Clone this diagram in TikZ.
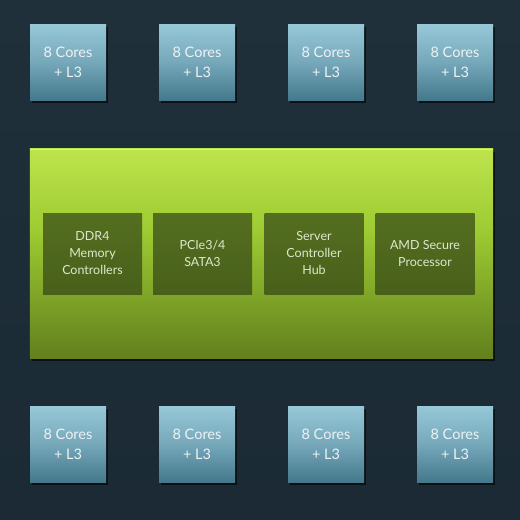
\documentclass[tikz,border=0pt]{standalone}
\usepackage{fontspec}
\setmainfont{Lato}
\usetikzlibrary{shadows}
\definecolor{bg}{RGB}{31,48,59}
\definecolor{bgdark}{RGB}{27,42,52}
\definecolor{coretop}{RGB}{150,200,216}
\definecolor{corebot}{RGB}{68,120,140}
\definecolor{greentop}{RGB}{190,228,76}
\definecolor{greenmid}{RGB}{158,204,50}
\definecolor{greenbot}{RGB}{98,128,30}
\definecolor{unittop}{RGB}{84,110,32}
\definecolor{unitbot}{RGB}{72,96,26}
\definecolor{coretext}{RGB}{238,242,244}
\definecolor{unittext}{RGB}{222,232,205}
\tikzset{
  corebox/.style={minimum width=76pt, minimum height=76pt, inner sep=0pt,
    top color=coretop, bottom color=corebot, middle color=coretop!60!corebot,
    drop shadow={shadow xshift=1.5pt, shadow yshift=-2.5pt, fill=black, opacity=0.6},
    text=coretext, font=\fontsize{14.5}{20}\selectfont, align=center},
  unitbox/.style={minimum width=99pt, minimum height=81pt, inner sep=0pt,
    top color=unittop, bottom color=unitbot,
    text=unittext, font=\fontsize{12.5}{17}\selectfont, align=center},
  iobox/.style={minimum width=463pt, minimum height=209pt, inner sep=0pt,
    drop shadow={shadow xshift=2pt, shadow yshift=-3pt, fill=black, opacity=0.6}}
}
\begin{document}
\begin{tikzpicture}[x=1pt,y=-1pt]
\useasboundingbox (0,0) rectangle (520,520);
\shade[top color=bg, bottom color=bgdark] (0,0) rectangle (520,520);
% I/O die
\node[iobox] (io) at (261.5,253.5) {};
\shade[top color=greentop, bottom color=greenmid] (io.north west) rectangle ([yshift=-80pt]io.north east);
\shade[top color=greenmid, bottom color=greenbot] ([yshift=-80pt]io.north west) rectangle (io.south east);
\draw[greentop!60!white, line width=1pt] ([yshift=-0.5pt]io.north west) -- ([yshift=-0.5pt]io.north east);
% units
\node[unitbox] (ddr) at (92.5,253.5) {DDR4\\Memory\\Controllers};
\node[unitbox] (pcie) at (202.5,253.5) {PCIe3/4\\SATA3};
\node[unitbox] (hub) at (314,253.5) {Server\\Controller\\Hub};
\node[unitbox] (sec) at (425,253.5) {AMD Secure\\Processor};
% cores
\foreach \i/\x in {1/68,2/197,3/326,4/455} {
  \node[corebox] (t\i) at (\x,62) {8 Cores\\+ L3};
  \node[corebox] (b\i) at (\x,444) {8 Cores\\+ L3};
}
\end{tikzpicture}
\end{document}
